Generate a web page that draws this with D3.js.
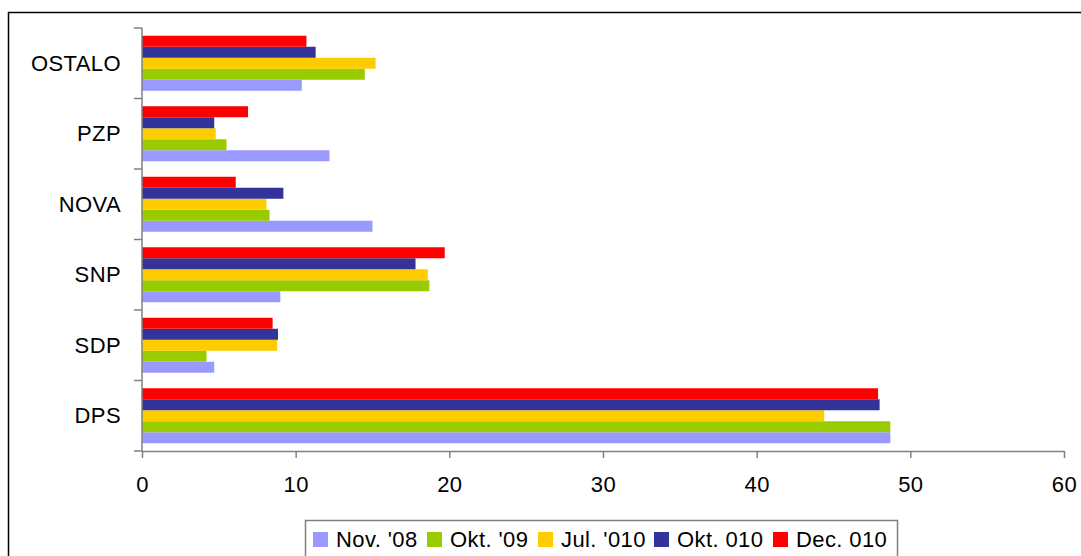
<!doctype html>
<html>
<head>
<meta charset="utf-8">
<script src="https://cdn.jsdelivr.net/npm/d3@7"></script>
<style>
  body { margin: 0; background: #fff; }
  text { font-family: "Liberation Sans", Arial, sans-serif; fill: #000; }
</style>
</head>
<body>
<svg id="chart"></svg>
<script>
// categories top to bottom
var categories = ["OSTALO", "PZP", "NOVA", "SNP", "SDP", "DPS"];
var seriesNames = ["Nov. '08", "Okt. '09", "Jul. '010", "Okt. 010", "Dec. 010"];
var seriesColors = ["#9999FF", "#99CC00", "#FFCC00", "#333399", "#FF0000"];
// values per series, same order as categories
var nov08  = [10.4, 12.2, 15.0, 9.0, 4.7, 48.7];
var okt09  = [14.5, 5.5, 8.3, 18.7, 4.2, 48.7];
var jul010 = [15.2, 4.8, 8.1, 18.6, 8.8, 44.4];
var okt010 = [11.3, 4.7, 9.2, 17.8, 8.85, 48.0];
var dec010 = [10.7, 6.9, 6.1, 19.7, 8.5, 47.9];
var xTicks = [0, 10, 20, 30, 40, 50, 60];

var seriesValues = [nov08, okt09, jul010, okt010, dec010];

var width = 1081, height = 556;
var svg = d3.select("#chart").attr("width", width).attr("height", height);

// chart frame
svg.append("rect").attr("x", 8.5).attr("y", 12.5)
   .attr("width", 1200).attr("height", 700)
   .attr("fill", "none").attr("stroke", "#000").attr("stroke-width", 1.5);

var x = d3.scaleLinear().domain([0, 60]).range([142, 1064]);
var y = d3.scaleBand().domain(categories).range([28, 451]).paddingInner(0.22).paddingOuter(0.11);
// Dec on top, Nov at bottom
var inner = d3.scaleBand().domain(d3.range(seriesNames.length).reverse()).range([0, y.bandwidth()]);

var axisColor = "#808080";
var fs = "22px", ls = "0.4px";

// bars
var rows = [];
seriesValues.forEach(function (vals, si) {
  vals.forEach(function (v, ci) { rows.push({s: si, c: categories[ci], v: v}); });
});
svg.append("g").selectAll("rect").data(rows).enter().append("rect")
   .attr("x", x(0))
   .attr("y", function (d) { return y(d.c) + inner(d.s); })
   .attr("width", function (d) { return x(d.v) - x(0); })
   .attr("height", inner.bandwidth())
   .attr("fill", function (d) { return seriesColors[d.s]; });

// x axis
var xAxis = svg.append("g").attr("transform", "translate(0," + 451 + ")")
   .call(d3.axisBottom(x).tickValues(xTicks).tickSize(7).tickSizeOuter(0).tickPadding(18));
xAxis.select(".domain").attr("stroke", axisColor).attr("stroke-width", 1.5);
xAxis.selectAll(".tick line").attr("stroke", axisColor).attr("stroke-width", 1.5);
xAxis.selectAll("text").style("font-size", fs).style("letter-spacing", ls).attr("fill", "#000");

// y axis: line + boundary ticks
var yG = svg.append("g");
yG.append("line").attr("x1", x(0)).attr("x2", x(0)).attr("y1", 28).attr("y2", 451)
  .attr("stroke", axisColor).attr("stroke-width", 1.5);
var bounds = categories.map(function (c) { return y(c) - y.step() * 0.11; }).concat([451]);
yG.selectAll("line.tick").data(bounds).enter().append("line").attr("class", "tick")
  .attr("x1", x(0) - 8).attr("x2", x(0)).attr("y1", function (d) { return d; }).attr("y2", function (d) { return d; })
  .attr("stroke", axisColor).attr("stroke-width", 1.5);
yG.selectAll("text").data(categories).enter().append("text")
  .attr("x", 121).attr("y", function (d) { return y(d) + y.bandwidth() / 2; })
  .attr("dy", "0.35em").attr("text-anchor", "end")
  .style("font-size", fs).style("letter-spacing", ls)
  .text(function (d) { return d; });

// legend
var legend = svg.append("g");
legend.append("rect").attr("x", 305.5).attr("y", 520.5).attr("width", 592).attr("height", 60)
  .attr("fill", "#fff").attr("stroke", "#808080").attr("stroke-width", 1.5);
var legX = [313, 427, 538, 654, 773];
var items = legend.selectAll("g.item").data(seriesNames).enter().append("g").attr("class", "item")
  .attr("transform", function (d, i) { return "translate(" + legX[i] + ",532)"; });
items.append("rect").attr("width", 15).attr("height", 15)
  .attr("fill", function (d, i) { return seriesColors[i]; });
items.append("text").attr("x", 23).attr("y", 7.5).attr("dy", "0.36em")
  .style("font-size", fs).style("letter-spacing", ls)
  .text(function (d) { return d; });
</script>
</body>
</html>
